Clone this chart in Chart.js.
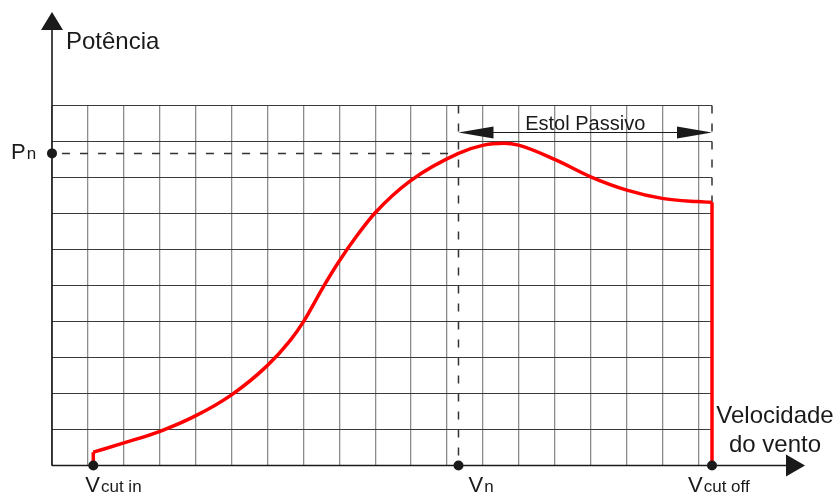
<!DOCTYPE html>
<html>
<head>
<meta charset="utf-8">
<script src="https://cdn.jsdelivr.net/npm/chart.js@4/dist/chart.umd.min.js"></script>
<style>
  html, body { margin: 0; padding: 0; background: #fff; }
  canvas { display: block; }
</style>
</head>
<body>
<canvas id="powerCurve" width="840" height="496"></canvas>
<script>
// curva de potência (unidades de grade)
const windSpeed = [1.15, 1.98, 3.01, 3.98, 5.01, 5.98, 6.63, 7.0, 7.56, 8.0, 8.49, 9.0, 9.97, 11.32, 12.02, 12.58, 12.99, 14.03, 15.0, 16.01, 16.99, 17.97, 18.38];
const power = [0.37, 0.62, 0.95, 1.37, 1.97, 2.76, 3.47, 3.99, 4.97, 5.68, 6.38, 7.02, 7.9, 8.67, 8.9, 8.95, 8.9, 8.49, 8.02, 7.65, 7.42, 7.33, 7.31];

const V_CUT_IN = 1.15;
const V_RATED = 11.32;
const V_CUT_OFF = 18.38;
const P_RATED = 8.67;
const Y_MAX = 10;

const FONT = "Liberation Sans, Arial, sans-serif";
const INK = "#1a1a1a";

function curvePoints() {
  return windSpeed.map((v, i) => ({ x: v, y: power[i] }));
}

function arrowHead(ctx, tipX, tipY, dir, len, half) {
  ctx.beginPath();
  if (dir === "up") {
    ctx.moveTo(tipX, tipY);
    ctx.lineTo(tipX - half, tipY + len);
    ctx.lineTo(tipX + half, tipY + len);
  } else if (dir === "right") {
    ctx.moveTo(tipX, tipY);
    ctx.lineTo(tipX - len, tipY - half);
    ctx.lineTo(tipX - len, tipY + half);
  } else {
    ctx.moveTo(tipX, tipY);
    ctx.lineTo(tipX + len, tipY - half);
    ctx.lineTo(tipX + len, tipY + half);
  }
  ctx.closePath();
  ctx.fill();
}

function dot(ctx, x, y) {
  ctx.beginPath();
  ctx.arc(x, y, 5, 0, Math.PI * 2);
  ctx.fill();
}

function subLabel(ctx, main, sub, x, baseline, size, subSize) {
  ctx.textAlign = "left";
  ctx.textBaseline = "alphabetic";
  ctx.font = `${size}px ${FONT}`;
  ctx.fillText(main, x, baseline);
  const w = ctx.measureText(main).width;
  ctx.font = `${subSize}px ${FONT}`;
  ctx.fillText(sub, x + w + 1, baseline);
}

const dashedGuides = {
  id: "dashedGuides",
  beforeDatasetsDraw(chart) {
    const { ctx, scales: { x, y } } = chart;
    const x0 = x.getPixelForValue(0);
    const xn = x.getPixelForValue(V_RATED);
    const xo = x.getPixelForValue(V_CUT_OFF);
    const yTop = y.getPixelForValue(Y_MAX);
    const y0 = y.getPixelForValue(0);
    const yp = y.getPixelForValue(P_RATED);
    const yEnd = y.getPixelForValue(power[power.length - 1]);
    ctx.save();
    ctx.strokeStyle = "#333";
    ctx.lineWidth = 1.5;
    ctx.setLineDash([8, 10]);
    ctx.beginPath();
    ctx.moveTo(x0 + 10, yp);
    ctx.lineTo(xn, yp);
    ctx.stroke();
    ctx.beginPath();
    ctx.moveTo(xn, yTop);
    ctx.lineTo(xn, y0);
    ctx.stroke();
    ctx.beginPath();
    ctx.moveTo(xo, yTop);
    ctx.lineTo(xo, yEnd);
    ctx.stroke();
    ctx.restore();
  },
};

const axesAndLabels = {
  id: "axesAndLabels",
  afterDatasetsDraw(chart) {
    const { ctx, scales: { x, y } } = chart;
    const x0 = x.getPixelForValue(0);
    const y0 = y.getPixelForValue(0);
    const yp = y.getPixelForValue(P_RATED);
    const xi = x.getPixelForValue(V_CUT_IN);
    const xn = x.getPixelForValue(V_RATED);
    const xo = x.getPixelForValue(V_CUT_OFF);
    ctx.save();
    ctx.fillStyle = INK;
    ctx.strokeStyle = INK;
    ctx.lineWidth = 1.6;

    // eixos
    ctx.beginPath();
    ctx.moveTo(x0, y0);
    ctx.lineTo(x0, 26);
    ctx.stroke();
    arrowHead(ctx, x0, 12, "up", 18, 11);
    ctx.beginPath();
    ctx.moveTo(x0, y0);
    ctx.lineTo(790, y0);
    ctx.stroke();
    arrowHead(ctx, 805, y0, "right", 19, 11);

    // estol passivo
    const ya = 132.5;
    ctx.lineWidth = 1.2;
    ctx.beginPath();
    ctx.moveTo(xn + 30, ya);
    ctx.lineTo(xo - 30, ya);
    ctx.stroke();
    arrowHead(ctx, xn, ya, "left", 35, 6);
    arrowHead(ctx, xo, ya, "right", 35, 6);
    ctx.font = `20px ${FONT}`;
    ctx.textAlign = "center";
    ctx.textBaseline = "alphabetic";
    ctx.fillText("Estol Passivo", (xn + xo) / 2, 130);

    // pontos
    dot(ctx, x0, yp);
    dot(ctx, xi, y0);
    dot(ctx, xn, y0);
    dot(ctx, xo, y0);

    // textos
    ctx.font = `24px ${FONT}`;
    ctx.textAlign = "left";
    ctx.fillText("Potência", 66, 49);
    ctx.textAlign = "center";
    ctx.fillText("Velocidade", 775, 423);
    ctx.fillText("do vento", 775, 452);

    subLabel(ctx, "P", "n", 11, 159, 22, 17);
    subLabel(ctx, "V", "cut in", xi - 8, 492, 22, 17);
    subLabel(ctx, "V", "n", xn + 10, 492, 22, 17);
    subLabel(ctx, "V", "cut off", xo - 24, 492, 22, 17);
    ctx.restore();
  },
};

new Chart(document.getElementById("powerCurve"), {
  type: "line",
  data: {
    datasets: [
      {
        data: [{ x: V_CUT_IN, y: 0 }, { x: V_CUT_IN, y: power[0] }],
        borderColor: "#ff0000",
        borderWidth: 3.5,
        pointRadius: 0,
        tension: 0,
        clip: false,
      },
      {
        data: curvePoints(),
        borderColor: "#ff0000",
        borderWidth: 3.5,
        pointRadius: 0,
        cubicInterpolationMode: "monotone",
        clip: false,
      },
      {
        data: [{ x: V_CUT_OFF, y: power[power.length - 1] }, { x: V_CUT_OFF, y: 0 }],
        borderColor: "#ff0000",
        borderWidth: 3.5,
        pointRadius: 0,
        tension: 0,
        clip: false,
      },
    ],
  },
  options: {
    responsive: false,
    animation: false,
    layout: { padding: { left: 52, right: 128, top: 105.5, bottom: 30.5 } },
    plugins: { legend: { display: false }, tooltip: { enabled: false } },
    scales: {
      x: {
        type: "linear",
        min: 0,
        max: V_CUT_OFF,
        border: { display: false },
        ticks: { display: false, stepSize: 1, includeBounds: false },
        grid: { color: "#8c8c8c", lineWidth: 1.3, drawTicks: false },
      },
      y: {
        type: "linear",
        min: 0,
        max: Y_MAX,
        border: { display: false },
        ticks: { display: false, stepSize: 1 },
        grid: { color: "#3a3a3a", lineWidth: 1, drawTicks: false },
      },
    },
  },
  plugins: [dashedGuides, axesAndLabels],
});
</script>
</body>
</html>
